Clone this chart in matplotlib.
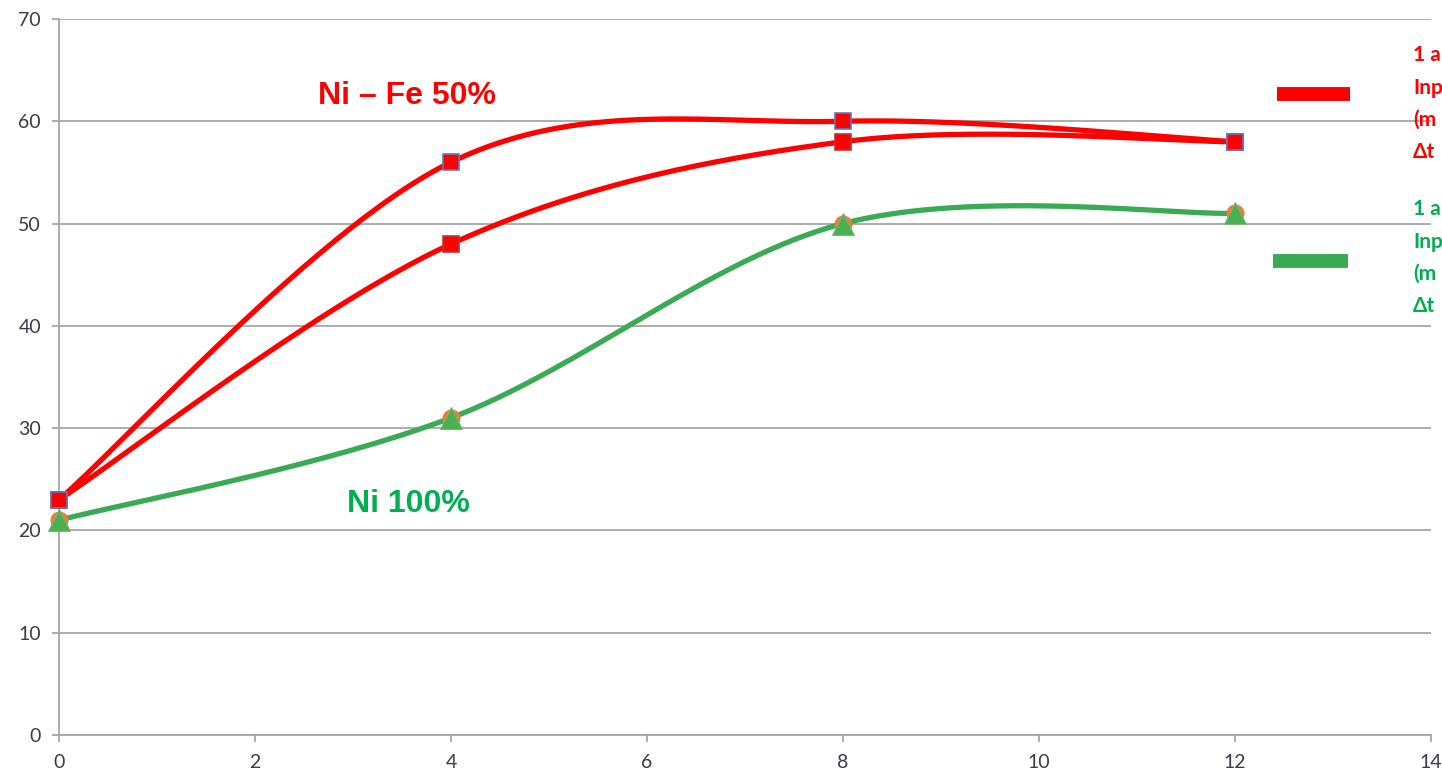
import numpy as np
import matplotlib.pyplot as plt
from matplotlib.lines import Line2D

# sampling times and measured values
x_vals = [0, 4, 8, 12]
nife_a = [23, 56, 60, 58]
nife_b = [23, 48, 58, 58]
ni_100 = [21, 31, 50, 51]

legend_red = ["1 a", "Inp", "(m", "\u0394t"]
legend_green = ["1 a", "Inp", "(m", "\u0394t"]

RED = "#FF0000"
GREEN = "#3BAA55"
TEXT_GREEN = "#00B050"
GRID = "#A6A6A6"


def smooth(xs, ys, n=60):
    """Excel-style smoothed line: cubic Bezier segments with Catmull-Rom handles."""
    p = np.column_stack([xs, ys]).astype(float)
    p_ext = np.vstack([p[0], p, p[-1]])
    out = []
    for i in range(len(p) - 1):
        p0, p1, p2, p3 = p_ext[i], p_ext[i + 1], p_ext[i + 2], p_ext[i + 3]
        c1 = p1 + (p2 - p0) / 6.0
        c2 = p2 - (p3 - p1) / 6.0
        t = np.linspace(0, 1, n)[:, None]
        seg = ((1 - t) ** 3) * p1 + 3 * ((1 - t) ** 2) * t * c1 \
            + 3 * (1 - t) * t ** 2 * c2 + t ** 3 * p2
        out.append(seg if i == 0 else seg[1:])
    out = np.vstack(out)
    return out[:, 0], out[:, 1]


fig = plt.figure(figsize=(14.42, 7.79), dpi=100)
ax = fig.add_axes([0.0409, 0.0565, 0.9515, 0.9191])

# curves
for ys, col in [(ni_100, GREEN), (nife_b, RED), (nife_a, RED)]:
    sx, sy = smooth(x_vals, ys)
    ax.plot(sx, sy, color=col, lw=3.8, solid_capstyle="round", zorder=3,
            clip_on=False)

# markers
ax.plot(x_vals, ni_100, ls="none", marker="o", ms=12, color="#ED7D31",
        zorder=4, clip_on=False)
ax.plot(x_vals, ni_100, ls="none", marker="^", ms=16, color="#4CAF50",
        mec="#7FB27F", mew=0.8, zorder=5, clip_on=False)
ax.plot(x_vals, nife_b, ls="none", marker="s", ms=11.5, color=RED,
        mec="#B03A3A", mew=1.2, zorder=5, clip_on=False)
ax.plot(x_vals, nife_a, ls="none", marker="s", ms=11.5, color=RED,
        mec="#5B7BC0", mew=1.2, zorder=6, clip_on=False)

ax.set_xlim(0, 14)
ax.set_ylim(0, 70)
ax.set_xticks(range(0, 15, 2))
ax.set_yticks(range(0, 71, 10))
ax.grid(axis="y", color=GRID, lw=1.3)
ax.set_axisbelow(True)
for s in ["top", "right"]:
    ax.spines[s].set_visible(False)
for s in ["left", "bottom"]:
    ax.spines[s].set_color(GRID)
    ax.spines[s].set_linewidth(1.3)
ax.tick_params(axis="both", colors=GRID, length=5, width=1.3,
               labelcolor="#3A3A48", labelsize=14)
ax.tick_params(axis="x", pad=9)
ax.tick_params(axis="y", pad=8)
for lbl in ax.get_xticklabels() + ax.get_yticklabels():
    lbl.set_fontfamily("Lato")

# series labels
ax.text(3.55, 62.5, "Ni \u2013 Fe 50%", color=RED, fontsize=23,
        fontweight="bold", family="Liberation Sans", ha="center", va="center")
ax.text(3.57, 22.6, "Ni 100%", color=TEXT_GREEN, fontsize=23,
        fontweight="bold", family="Liberation Sans", ha="center", va="center")

# legend keys
ax.add_line(Line2D([0.8878, 0.941], [0.895, 0.895], transform=ax.transAxes,
                   color=RED, lw=10, solid_capstyle="butt", clip_on=False))
ax.add_line(Line2D([0.8848, 0.9395], [0.662, 0.662], transform=ax.transAxes,
                   color=GREEN, lw=10, solid_capstyle="butt", clip_on=False))

fig_h = 779.0
for lines, col, y0 in [(legend_red, RED, 55), (legend_green, TEXT_GREEN, 209)]:
    for k, line in enumerate(lines):
        fig.text(1413 / 1442, 1 - (y0 + 32.5 * k) / fig_h, line, color=col,
                 fontsize=15, fontweight="bold", family="Lato",
                 ha="left", va="center")

fig.savefig("out.png", dpi=100)
